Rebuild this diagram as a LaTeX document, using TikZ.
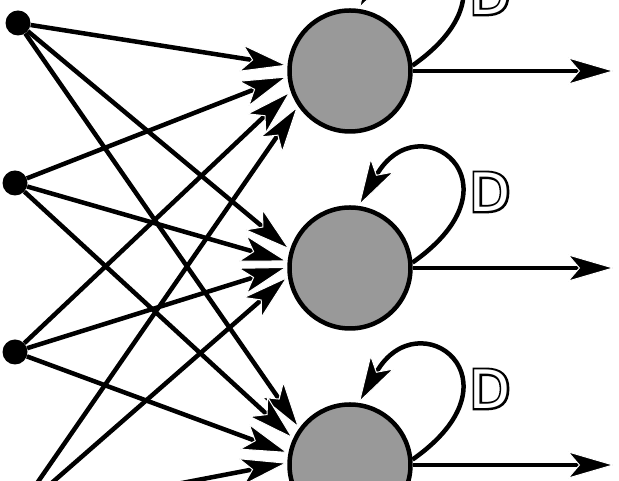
\documentclass[tikz,border=0pt]{standalone}
\usepackage{fontspec}
\usepackage{xcolor}
\usepackage{tikz}
\usetikzlibrary{arrows.meta,calc}

\newfontfamily\dfont{DejaVu Sans}
\newfontfamily\dfontfat{DejaVu Sans}[FakeBold=8]
\newcommand{\delayD}{\makebox[0pt][l]{\dfontfat D}\textcolor{white}{\dfont D}}

\tikzset{
  neuron/.style={circle, draw=black, line width=4.5pt, fill=black!40, minimum size=121pt, inner sep=0pt},
  inputdot/.style={circle, fill=black, minimum size=25pt, inner sep=0pt},
  synapse/.style={line width=4.5pt, -{Stealth[length=48pt,width=28pt,inset=12pt,line width=1pt,color=white,fill=black]}},
  delay/.style={inner sep=0pt, font=\fontsize{53}{53}\selectfont}
}

\begin{document}
\begin{tikzpicture}[x=1pt, y=1pt]

        \useasboundingbox (0,0) rectangle (619,481);
        \clip (0,0) rectangle (619,481);

         % input points
         \node[inputdot] (d1) at (18,458) {};
         \node[inputdot] (d2) at (15,298) {};
         \node[inputdot] (d3) at (15,129) {};
         \node[inputdot] (d4) at (15,-34) {};

         % neurons
         \node[neuron] (n1) at (350,410) {};
         \node[neuron] (n2) at (350,213) {};
         \node[neuron] (n3) at (350,16) {};

         % every input to every neuron
         \foreach \j/\angles in {1/{175,185,199,214}, 2/{163,174,179,188}, 3/{144,155,169,178}} {
           \foreach \a [count=\i] in \angles
             \draw[synapse] (d\i) -- (n\j.\a);
         }

         % outputs and delayed feedback
         \foreach \j in {1,2,3} {
           \coordinate (o\j) at ($(n\j.east)+(202,0)$);
           \draw[synapse] (n\j.east) -- (o\j);
           \draw[synapse] (n\j.5) .. controls +(35:140) and +(60:120) .. (n\j.82);
           \node[delay] (D\j) at ($(n\j)+(140,76)$) {\delayD};
         }

    \end{tikzpicture}
\end{document}
